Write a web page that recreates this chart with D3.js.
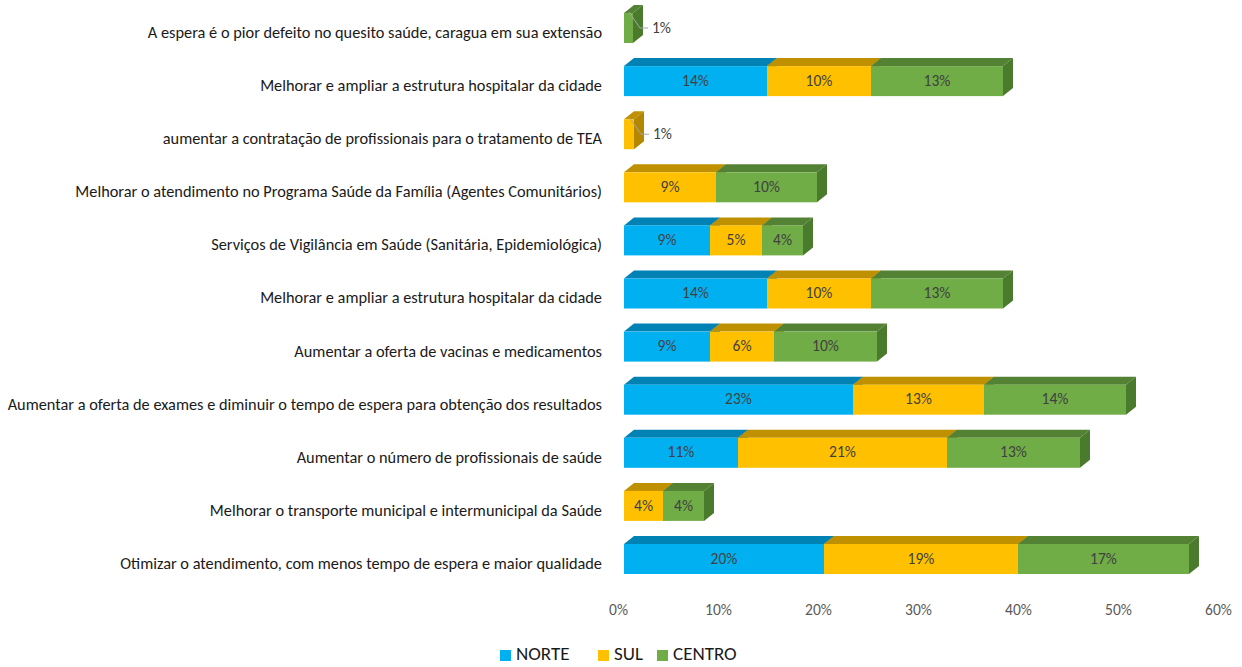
<!DOCTYPE html>
<html>
<head>
  <meta charset="utf-8">
  <title>Saude - regioes</title>
  <script src="https://d3js.org/d3.v7.min.js"></script>
  <style>
    body { margin: 0; background: #fff; }
    text { font-family: Carlito, "Liberation Sans", Arial, sans-serif; }
  </style>
</head>
<body>
  <script>
    // categories, top to bottom as in the chart
    const categories = [
      "A espera é o pior defeito no quesito saúde, caragua em sua extensão",
      "Melhorar e ampliar a estrutura hospitalar da cidade",
      "aumentar  a contratação de profissionais para o tratamento de TEA",
      "Melhorar o atendimento no Programa Saúde da Família (Agentes Comunitários)",
      "Serviços de Vigilância em Saúde (Sanitária, Epidemiológica)",
      "Melhorar e ampliar a estrutura hospitalar da cidade ",
      "Aumentar a oferta de vacinas e medicamentos",
      "Aumentar a oferta de exames e diminuir o tempo de espera para obtenção dos resultados",
      "Aumentar o número de profissionais de saúde",
      "Melhorar o transporte municipal e intermunicipal da Saúde",
      "Otimizar o atendimento, com menos tempo de espera e maior qualidade"
    ];
    const series = ["NORTE", "SUL", "CENTRO"];
    const norte  = [0,     0.143, 0,     0,     0.086, 0.143, 0.086, 0.229, 0.114, 0,     0.200];
    const sul    = [0,     0.104, 0.010, 0.092, 0.052, 0.104, 0.064, 0.131, 0.209, 0.039, 0.194];
    const centro = [0.009, 0.132, 0,     0.101, 0.041, 0.132, 0.103, 0.142, 0.133, 0.041, 0.171];
    const tickValues = [0, 0.1, 0.2, 0.3, 0.4, 0.5, 0.6];

    const width = 1242, height = 667;
    const depthX = 10, depthY = 8;
    const faceColors = ["#00B0F0", "#FFC000", "#70AD47"];
    const topColors  = ["#0083B4", "#BF9000", "#548235"];
    const sideColors = ["#007BA8", "#B38700", "#4A7A2C"];

    const rows = categories.map((c, i) => ({ cat: i, NORTE: norte[i], SUL: sul[i], CENTRO: centro[i] }));
    const stacked = d3.stack().keys(series)(rows);

    const x = d3.scaleLinear().domain([0, 0.6]).range([624, 1224]);
    const y = d3.scaleBand().domain(d3.range(categories.length))
      .range([0, 587]).paddingInner(0.435).paddingOuter(0.245);

    const svg = d3.select("body").append("svg")
      .attr("width", width)
      .attr("height", height);

    // category labels
    const catLabels = svg.append("g").selectAll("text")
      .data(categories)
      .join("text")
      .attr("x", 602)
      .attr("y", (d, i) => y(i) + y.bandwidth() / 2 + 6)
      .attr("text-anchor", "end")
      .attr("dominant-baseline", "middle")
      .style("font-size", "14.67px")
      .style("fill", "#1a1a1a")
      .text(d => d);

    // fit longest label to the same width as in the original (~594px)
    let longest = 0;
    catLabels.each(function() { longest = Math.max(longest, this.getComputedTextLength()); });
    if (longest > 0) catLabels.style("font-size", (14.67 * 594 / longest).toFixed(2) + "px");

    // 3D-ish boxes, one layer per series
    const layers = svg.append("g").selectAll("g")
      .data(stacked)
      .join("g");

    const segs = layers.selectAll("g")
      .data((s, si) => s.map((d, i) => ({ x0: d[0], x1: d[1], i: i, si: si, v: d[1] - d[0] })).filter(d => d.v > 0))
      .join("g");

    segs.each(function(d) {
      const g = d3.select(this);
      const a = x(d.x0), b = x(d.x1), t = y(d.i), h = y.bandwidth();
      g.append("path")
        .attr("d", `M${a},${t} L${a + depthX},${t - depthY} L${b + depthX},${t - depthY} L${b},${t} Z`)
        .attr("fill", topColors[d.si]);
      g.append("path")
        .attr("d", `M${b},${t} L${b + depthX},${t - depthY} L${b + depthX},${t + h - depthY} L${b},${t + h} Z`)
        .attr("fill", sideColors[d.si]);
      g.append("rect")
        .attr("x", a).attr("y", t)
        .attr("width", b - a).attr("height", h)
        .attr("fill", faceColors[d.si]);
    });

    // labels
    const fmt = d3.format(".0%");
    segs.each(function(d) {
      const g = d3.select(this);
      const a = x(d.x0), b = x(d.x1), t = y(d.i), h = y.bandwidth();
      if (d.v >= 0.02) {
        g.append("text")
          .attr("x", (a + b) / 2)
          .attr("y", t + h / 2 + 1)
          .attr("text-anchor", "middle")
          .attr("dominant-baseline", "middle")
          .style("font-size", "15.5px")
          .style("fill", "#404040")
          .text(fmt(d.v));
      } else {
        const yc = t + h / 2;
        g.append("path")
          .attr("d", `M${b - 4},${t - 1} L${b + 7},${yc} L${b + 15},${yc}`)
          .attr("fill", "none")
          .attr("stroke", "#a6a6a6")
          .attr("stroke-width", 1);
        g.append("text")
          .attr("x", b + 19)
          .attr("y", yc + 1)
          .attr("dominant-baseline", "middle")
          .style("font-size", "15.5px")
          .style("fill", "#404040")
          .text(fmt(d.v));
      }
    });

    // x axis labels only
    const axis = svg.append("g")
      .attr("transform", "translate(-6,601)")
      .call(d3.axisBottom(x).tickValues(tickValues).tickFormat(fmt).tickSize(0));
    axis.select(".domain").remove();
    axis.selectAll("text")
      .style("font-size", "15.5px")
      .style("font-family", "Carlito, 'Liberation Sans', Arial, sans-serif")
      .style("fill", "#595959");

    // legend
    const legendX = [500, 598, 657];
    const legend = svg.append("g").selectAll("g")
      .data(series)
      .join("g")
      .attr("transform", (d, i) => `translate(${legendX[i]},650)`);
    legend.append("rect")
      .attr("width", 11).attr("height", 11)
      .attr("fill", (d, i) => faceColors[i]);
    legend.append("text")
      .attr("x", 16).attr("y", 5.5)
      .attr("dominant-baseline", "middle")
      .style("font-size", "19px")
      .style("fill", "#1a1a1a")
      .text(d => d);
  </script>
</body>
</html>
